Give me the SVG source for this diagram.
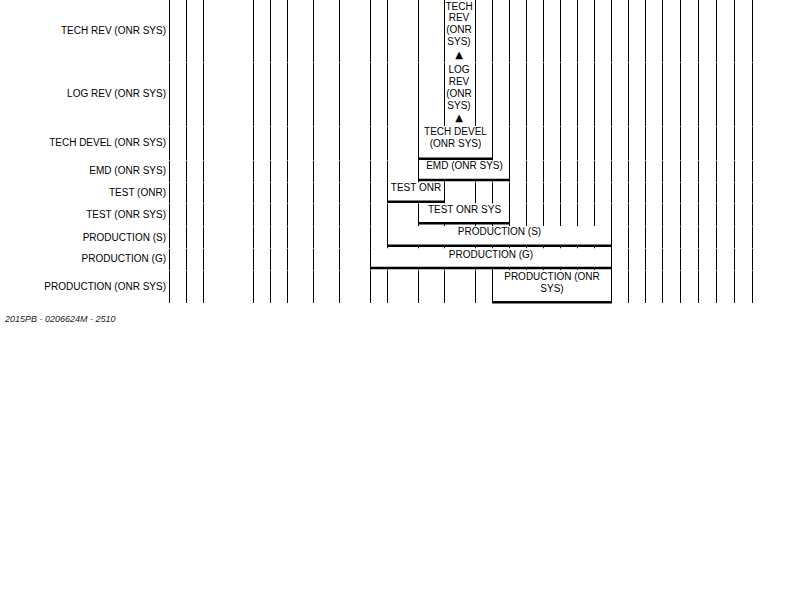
<svg xmlns="http://www.w3.org/2000/svg" width="792" height="612" viewBox="0 0 792 612">
  <style>
    text { font-family: "Liberation Sans", Arial, sans-serif; font-size: 10px; fill: #000; }
    .row { text-anchor: end; }
    .mid { text-anchor: middle; }
    .tri { font-family: "DejaVu Sans", sans-serif; font-size: 10px; text-anchor: middle; }
    .foot { font-size: 9px; font-style: italic; fill: #222; }
    .grid line { stroke: #000; stroke-width: 1; }
    .seam line { stroke: #fff; stroke-opacity: 0.55; stroke-width: 1; }
    .fill { fill: #fff; stroke: none; }
    .side { stroke: #000; stroke-width: 1; fill: none; }
    .base { stroke: #000; stroke-width: 2.5; fill: none; }
  </style>

  <rect width="792" height="612" fill="#fff"/>

  <!-- row captions -->
  <g id="row-labels">
    <text class="row" x="166" y="33.5">TECH REV (ONR SYS)</text>
    <text class="row" x="166" y="96.5">LOG REV (ONR SYS)</text>
    <text class="row" x="166" y="145.5">TECH DEVEL (ONR SYS)</text>
    <text class="row" x="166" y="173.5">EMD (ONR SYS)</text>
    <text class="row" x="166" y="195.5">TEST (ONR)</text>
    <text class="row" x="166" y="217.5">TEST (ONR SYS)</text>
    <text class="row" x="166" y="240.5">PRODUCTION (S)</text>
    <text class="row" x="166" y="261.5">PRODUCTION (G)</text>
    <text class="row" x="166" y="289.5">PRODUCTION (ONR SYS)</text>
  </g>

  <!-- time grid -->
  <g id="grid" class="grid">
    <line x1="169.5" y1="0" x2="169.5" y2="303"/>
    <line x1="186.5" y1="0" x2="186.5" y2="303"/>
    <line x1="203.5" y1="0" x2="203.5" y2="303"/>
    <line x1="253.5" y1="0" x2="253.5" y2="303"/>
    <line x1="270.5" y1="0" x2="270.5" y2="303"/>
    <line x1="287.5" y1="0" x2="287.5" y2="303"/>
    <line x1="313.5" y1="0" x2="313.5" y2="303"/>
    <line x1="339.5" y1="0" x2="339.5" y2="303"/>
    <line x1="370.5" y1="0" x2="370.5" y2="303"/>
    <line x1="387.5" y1="0" x2="387.5" y2="303"/>
    <line x1="418.5" y1="0" x2="418.5" y2="303"/>
    <line x1="444.5" y1="0" x2="444.5" y2="303"/>
    <line x1="475.5" y1="0" x2="475.5" y2="303"/>
    <line x1="492.5" y1="0" x2="492.5" y2="303"/>
    <line x1="509.5" y1="0" x2="509.5" y2="303"/>
    <line x1="526.5" y1="0" x2="526.5" y2="303"/>
    <line x1="543.5" y1="0" x2="543.5" y2="303"/>
    <line x1="560.5" y1="0" x2="560.5" y2="303"/>
    <line x1="577.5" y1="0" x2="577.5" y2="303"/>
    <line x1="594.5" y1="0" x2="594.5" y2="303"/>
    <line x1="611.5" y1="0" x2="611.5" y2="303"/>
    <line x1="628.5" y1="0" x2="628.5" y2="303"/>
    <line x1="645.5" y1="0" x2="645.5" y2="303"/>
    <line x1="662.5" y1="0" x2="662.5" y2="303"/>
    <line x1="680.5" y1="0" x2="680.5" y2="303"/>
    <line x1="698.5" y1="0" x2="698.5" y2="303"/>
    <line x1="716.5" y1="0" x2="716.5" y2="303"/>
    <line x1="734.5" y1="0" x2="734.5" y2="303"/>
    <line x1="752.5" y1="0" x2="752.5" y2="303"/>
  </g>

  <!-- faint seams where grid rows meet -->
  <g id="row-seams" class="seam">
    <line x1="168" y1="62.5" x2="754" y2="62.5"/>
    <line x1="168" y1="126.5" x2="754" y2="126.5"/>
    <line x1="168" y1="160.5" x2="754" y2="160.5"/>
    <line x1="168" y1="182.5" x2="754" y2="182.5"/>
    <line x1="168" y1="203.5" x2="754" y2="203.5"/>
    <line x1="168" y1="226.5" x2="754" y2="226.5"/>
    <line x1="168" y1="248.5" x2="754" y2="248.5"/>
    <line x1="168" y1="270.5" x2="754" y2="270.5"/>
  </g>

  <!-- schedule bars -->
  <g id="tech-rev">
    <rect class="fill" x="445" y="0" width="30" height="62"/>
    <text class="mid" x="459" y="9.5">TECH</text>
    <text class="mid" x="459" y="21">REV</text>
    <text class="mid" x="459" y="33">(ONR</text>
    <text class="mid" x="459" y="45">SYS)</text>
    <text class="tri" x="459" y="57.5">▲</text>
  </g>

  <g id="log-rev">
    <rect class="fill" x="445" y="63" width="30" height="63"/>
    <text class="mid" x="459" y="72.5">LOG</text>
    <text class="mid" x="459" y="84.5">REV</text>
    <text class="mid" x="459" y="96.5">(ONR</text>
    <text class="mid" x="459" y="108.5">SYS)</text>
    <text class="tri" x="459" y="121">▲</text>
  </g>

  <g id="tech-devel">
    <rect class="fill" x="419" y="126" width="73" height="33"/>
    <line class="side" x1="418.5" y1="126" x2="418.5" y2="159"/>
    <line class="side" x1="492.5" y1="126" x2="492.5" y2="159"/>
    <line class="base" x1="418" y1="158.8" x2="493" y2="158.8"/>
    <text class="mid" x="455.5" y="134.5">TECH DEVEL</text>
    <text class="mid" x="455.5" y="146.5">(ONR SYS)</text>
  </g>

  <g id="emd">
    <rect class="fill" x="419" y="160.2" width="90" height="20"/>
    <line class="side" x1="418.5" y1="160" x2="418.5" y2="180"/>
    <line class="side" x1="509.5" y1="160" x2="509.5" y2="180"/>
    <line class="base" x1="418" y1="180" x2="510" y2="180"/>
    <text class="mid" x="464.5" y="168.5">EMD (ONR SYS)</text>
  </g>

  <g id="test-onr">
    <rect class="fill" x="388" y="182.5" width="56" height="19"/>
    <line class="side" x1="387.5" y1="182.5" x2="387.5" y2="201.7"/>
    <line class="side" x1="444.5" y1="182.5" x2="444.5" y2="201.7"/>
    <line class="base" x1="387" y1="201.7" x2="445" y2="201.7"/>
    <text class="mid" x="416" y="191">TEST ONR</text>
  </g>

  <g id="test-onr-sys">
    <rect class="fill" x="419" y="203.5" width="90" height="20"/>
    <line class="side" x1="418.5" y1="203.5" x2="418.5" y2="223.3"/>
    <line class="side" x1="509.5" y1="203.5" x2="509.5" y2="223.3"/>
    <line class="base" x1="418" y1="223.3" x2="510" y2="223.3"/>
    <text class="mid" x="464.5" y="213">TEST ONR SYS</text>
  </g>

  <g id="production-s">
    <rect class="fill" x="388" y="226" width="223" height="19.7"/>
    <line class="side" x1="387.5" y1="226" x2="387.5" y2="245.7"/>
    <line class="side" x1="611.5" y1="226" x2="611.5" y2="245.7"/>
    <line class="base" x1="387" y1="245.7" x2="612" y2="245.7"/>
    <text class="mid" x="499.5" y="235.3">PRODUCTION (S)</text>
  </g>

  <g id="production-g">
    <rect class="fill" x="371" y="248.5" width="240" height="19.5"/>
    <line class="side" x1="370.5" y1="248.5" x2="370.5" y2="268"/>
    <line class="side" x1="611.5" y1="248.5" x2="611.5" y2="268"/>
    <line class="base" x1="370" y1="268" x2="612" y2="268"/>
    <text class="mid" x="491" y="257.5">PRODUCTION (G)</text>
  </g>

  <g id="production-onr-sys">
    <rect class="fill" x="493" y="270" width="118" height="32.3"/>
    <line class="side" x1="492.5" y1="270" x2="492.5" y2="302.3"/>
    <line class="side" x1="611.5" y1="270" x2="611.5" y2="302.3"/>
    <line class="base" x1="492" y1="302.3" x2="612" y2="302.3"/>
    <text class="mid" x="552" y="279.5">PRODUCTION (ONR</text>
    <text class="mid" x="552" y="291.5">SYS)</text>
  </g>

  <text class="foot" x="5" y="322">2015PB - 0206624M - 2510</text>
</svg>
